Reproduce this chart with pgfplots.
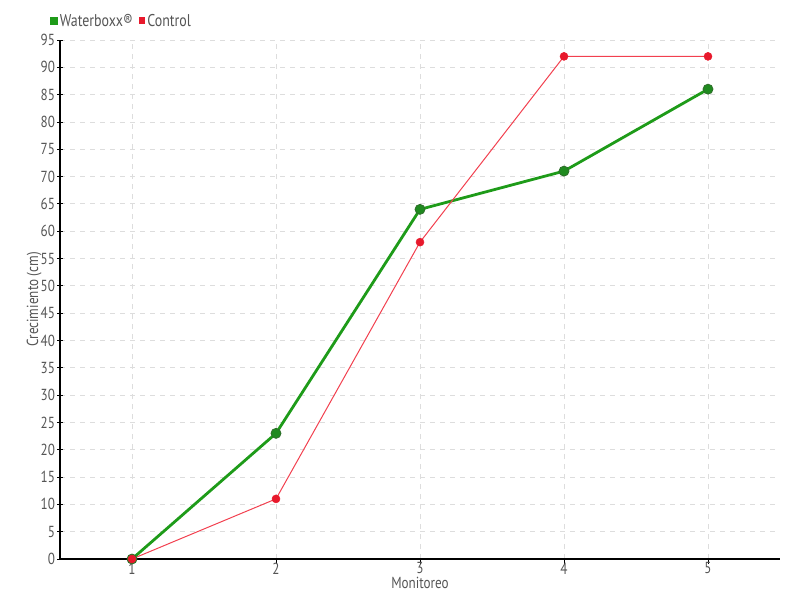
\documentclass[border=0pt]{standalone}
\usepackage{pgfplots}
\pgfplotsset{compat=1.18}
\usepackage{fontspec}
\setmainfont{PT Sans}[FakeStretch=0.82]
\definecolor{wgreen}{HTML}{1E9B19}
\definecolor{wgreenmk}{HTML}{1F8A1F}
\definecolor{wgreenedge}{HTML}{2E6E2A}
\definecolor{cred}{HTML}{E8192C}
\definecolor{credline}{HTML}{F2404F}
\definecolor{txt}{HTML}{555555}
\definecolor{gridc}{HTML}{DDDDDD}
\begin{document}
\begin{tikzpicture}[x=1pt,y=1pt]
\useasboundingbox (0,0) rectangle (800,600);
\begin{axis}[
  at={(60pt,41pt)}, anchor=south west,
  scale only axis, width=720pt, height=519pt,
  xmin=0.5, xmax=5.5, ymin=0, ymax=95,
  axis x line=bottom, axis y line=left,
  axis line style={-, black, line width=1.2pt},
  xtick={1,2,3,4,5},
  ytick={0,5,...,95},
  grid=major,
  major grid style={gridc, dash pattern=on 5pt off 5pt, line width=0.8pt},
  tick style={black, line width=0.8pt},
  major tick length=5pt,
  xtick align=outside, ytick align=center,
  ticklabel style={font=\fontsize{16}{18}\selectfont, text=txt},
  /pgf/number format/assume math mode=true,
  xticklabel style={yshift=2.5pt, inner sep=1pt, text depth=0pt},
  yticklabel style={xshift=1pt},
  xlabel={Monitoreo},
  ylabel={Crecimiento (cm)},
  label style={font=\fontsize{16}{18}\selectfont, text=txt},
  xlabel style={at={(axis description cs:0.5,-0.0465)}, anchor=center, inner sep=1pt},
  ylabel style={at={(axis description cs:-0.036,0.5)}, anchor=center},
  legend columns=2,
  legend style={at={(-0.019,1.037)}, anchor=west, draw=none, fill=none,
    font=\fontsize{17}{19}\selectfont, text=txt,
    /tikz/every even column/.append style={column sep=4pt}},
  legend cell align=left,
  clip=false,
]
\addplot[wgreen, line width=2.8pt, mark=*, mark size=5pt,
  mark options={fill=wgreenmk, draw=wgreenedge, line width=0.8pt},
  legend image code/.code={\fill[wgreen] (0pt,-2.8pt) rectangle (5.6pt,2.8pt);}]
  coordinates {(1,0) (2,23) (3,64) (4,71) (5,86)};
\addlegendentry{Waterboxx®}
\addplot[credline, line width=1pt, mark=*, mark size=4pt,
  mark options={fill=cred, draw=cred, line width=0.5pt},
  legend image code/.code={\fill[cred] (0pt,-2.8pt) rectangle (5.6pt,2.8pt);}]
  coordinates {(1,0) (2,11) (3,58) (4,92) (5,92)};
\addlegendentry{Control}
\end{axis}
\end{tikzpicture}
\end{document}
